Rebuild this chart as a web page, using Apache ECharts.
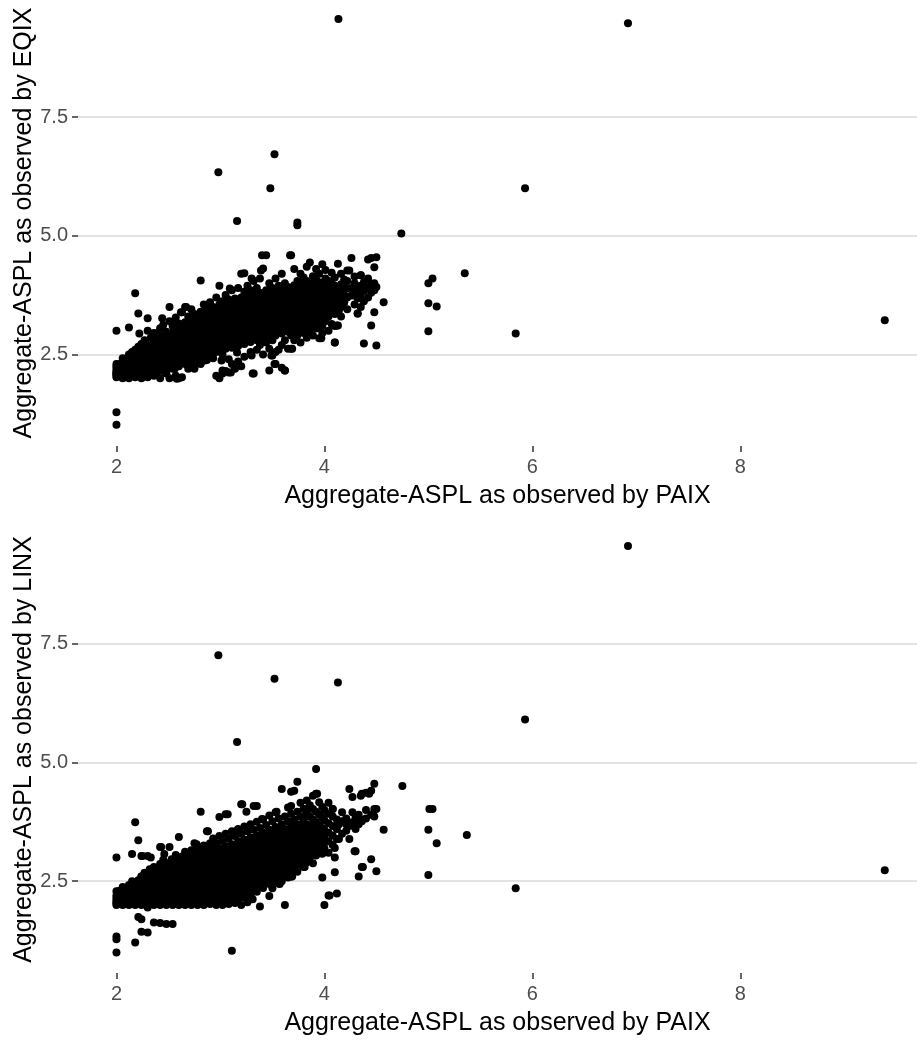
<!DOCTYPE html>
<html>
<head>
<meta charset="utf-8">
<script src="https://cdn.jsdelivr.net/npm/echarts@6/dist/echarts.min.js"></script>
<style>html,body{margin:0;padding:0;background:#fff;}#c{width:917px;height:1041px;}</style>
</head>
<body>
<div id="c"></div>
<script>
const xTicks = [2, 4, 6, 8];
const yTicks = [2.5, 5.0, 7.5];
const xTitle = 'Aggregate-ASPL as observed by PAIX';
const yTitles = ['Aggregate-ASPL as observed by EQIX', 'Aggregate-ASPL as observed by LINX'];

// EQIX vs PAIX : [x, [y values at that x]]
const eqixCols = [
 [2.00,[2.02,2.05,2.08,2.1,2.12,2.15,2.2,2.25,2.3,3.0,1.28,1.02]],
 [2.03,[2.04,2.1,2.18,2.3]],
 [2.06,[2.0,2.08,2.14,2.22,2.35,2.42]],
 [2.09,[2.03,2.12,2.2,2.28,2.4]],
 [2.12,[2.0,2.1,2.16,2.26,2.36,2.5,3.07]],
 [2.15,[2.06,2.14,2.24,2.33,2.45,2.55]],
 [2.18,[2.02,2.12,2.2,2.3,2.4,2.6,3.79]],
 [2.21,[2.1,2.18,2.27,2.38,2.48,2.66,3.36]],
 [2.24,[2.0,2.15,2.25,2.34,2.44,2.56,2.72]],
 [2.27,[2.08,2.2,2.3,2.42,2.52,2.62,2.8]],
 [2.30,[2.02,2.14,2.26,2.36,2.48,2.6,2.7,3.26]],
 [2.33,[2.1,2.22,2.33,2.45,2.55,2.68,2.85]],
 [2.36,[2.05,2.18,2.3,2.42,2.52,2.64,2.76,2.95]],
 [2.39,[2.12,2.25,2.38,2.5,2.6,2.72,2.82]],
 [2.42,[2.0,2.2,2.32,2.44,2.56,2.68,2.8,3.05]],
 [2.45,[2.15,2.28,2.4,2.52,2.64,2.76,2.9,3.12]],
 [2.48,[2.1,2.22,2.36,2.48,2.6,2.72,2.84,2.98]],
 [2.51,[2.0,2.3,2.42,2.55,2.66,2.78,2.9,3.2,3.5]],
 [2.54,[2.2,2.35,2.48,2.6,2.72,2.84,2.96,3.1]],
 [2.57,[2.05,2.28,2.42,2.55,2.68,2.8,2.92,3.05,3.28]],
 [2.60,[2.0,2.25,2.38,2.5,2.62,2.74,2.86,3.0,3.15]],
 [2.63,[2.02,2.32,2.45,2.58,2.7,2.82,2.95,3.1,3.39]],
 [2.66,[2.3,2.42,2.55,2.66,2.78,2.9,3.02,3.18,3.5]],
 [2.69,[2.2,2.38,2.5,2.62,2.74,2.86,2.98,3.12,3.3]],
 [2.72,[2.35,2.48,2.6,2.72,2.84,2.96,3.08,3.22,3.45]],
 [2.75,[2.25,2.42,2.55,2.68,2.8,2.92,3.04,3.18,3.35]],
 [2.78,[2.4,2.52,2.64,2.76,2.88,3.0,3.14,3.28]],
 [2.81,[2.3,2.46,2.6,2.72,2.84,2.96,3.08,3.22,3.4,4.06]],
 [2.84,[2.45,2.58,2.7,2.82,2.94,3.06,3.2,3.34,3.55]],
 [2.87,[2.38,2.52,2.66,2.78,2.9,3.02,3.14,3.28,3.45]],
 [2.90,[2.5,2.62,2.75,2.86,2.98,3.1,3.24,3.38,3.6]],
 [2.93,[2.42,2.58,2.7,2.82,2.94,3.06,3.18,3.32,3.5]],
 [2.96,[2.05,2.55,2.68,2.8,2.92,3.04,3.16,3.3,3.46,3.7]],
 [2.99,[2.0,2.6,2.74,2.86,2.98,3.1,3.22,3.36,3.55,3.95]],
 [3.02,[2.1,2.5,2.66,2.8,2.92,3.04,3.16,3.28,3.42,3.62]],
 [3.05,[2.15,2.62,2.76,2.88,3.0,3.12,3.24,3.38,3.52,3.75]],
 [3.08,[2.12,2.4,2.7,2.84,2.96,3.08,3.2,3.32,3.46,3.66]],
 [3.11,[2.3,2.64,2.78,2.92,3.04,3.16,3.28,3.42,3.58,3.85]],
 [3.14,[2.2,2.72,2.86,2.98,3.1,3.22,3.36,3.5,3.68]],
 [3.17,[2.35,2.68,2.82,2.94,3.06,3.18,3.3,3.44,3.6,3.9]],
 [3.20,[2.25,2.76,2.9,3.02,3.14,3.26,3.38,3.52,3.7,4.2]],
 [3.23,[2.45,2.72,2.86,2.98,3.1,3.22,3.34,3.48,3.64,3.82]],
 [3.26,[2.8,2.94,3.06,3.18,3.3,3.42,3.56,3.72,3.95]],
 [3.29,[2.55,2.76,2.9,3.02,3.14,3.26,3.38,3.5,3.66,3.85]],
 [3.32,[2.1,2.84,2.98,3.1,3.22,3.34,3.46,3.6,3.76,4.05]],
 [3.35,[2.6,2.8,2.94,3.06,3.18,3.3,3.42,3.56,3.7,3.9]],
 [3.38,[2.7,2.88,3.02,3.14,3.26,3.38,3.5,3.64,3.8,4.1]],
 [3.41,[2.5,2.84,2.98,3.1,3.22,3.34,3.46,3.6,3.74,4.31]],
 [3.44,[2.75,2.92,3.06,3.18,3.3,3.42,3.54,3.68,3.85,4.59]],
 [3.47,[2.16,2.62,2.88,3.02,3.14,3.26,3.38,3.5,3.64,3.8,4.0]],
 [3.50,[2.48,2.8,2.96,3.1,3.22,3.34,3.46,3.58,3.72,3.9]],
 [3.53,[2.3,2.55,2.9,3.04,3.16,3.28,3.4,3.52,3.66,3.84,4.1]],
 [3.56,[2.6,2.98,3.12,3.24,3.36,3.48,3.6,3.75,3.95]],
 [3.59,[2.22,2.7,2.94,3.08,3.2,3.32,3.44,3.56,3.7,3.88,4.2]],
 [3.62,[2.16,2.8,3.02,3.16,3.28,3.4,3.52,3.64,3.8,4.0]],
 [3.65,[2.62,2.98,3.12,3.24,3.36,3.48,3.6,3.74,3.92]],
 [3.68,[2.62,2.9,3.06,3.2,3.32,3.44,3.56,3.68,3.84,4.59]],
 [3.71,[2.8,3.0,3.14,3.28,3.4,3.52,3.64,3.78,3.96,4.3]],
 [3.74,[2.9,3.1,3.24,3.36,3.48,3.6,3.72,3.88,4.05]],
 [3.77,[2.75,3.04,3.18,3.32,3.44,3.56,3.68,3.82,4.0,4.2]],
 [3.80,[2.95,3.14,3.28,3.4,3.52,3.64,3.78,3.94,4.12]],
 [3.83,[2.85,3.08,3.22,3.36,3.48,3.6,3.72,3.88,4.05,4.35]],
 [3.86,[3.0,3.18,3.32,3.46,3.58,3.7,3.84,4.0,4.44]],
 [3.89,[2.9,3.12,3.28,3.42,3.54,3.66,3.8,3.95,4.15]],
 [3.92,[3.05,3.22,3.38,3.5,3.62,3.76,3.9,4.08,4.3]],
 [3.95,[2.84,3.16,3.32,3.46,3.58,3.72,3.86,4.02,4.2]],
 [3.98,[2.95,3.1,3.26,3.4,3.54,3.68,3.82,3.98,4.4]],
 [4.01,[3.2,3.36,3.5,3.64,3.78,3.92,4.1,4.28]],
 [4.04,[3.0,3.3,3.46,3.6,3.74,3.9,4.05]],
 [4.07,[3.14,3.4,3.56,3.7,3.84,4.0,4.22]],
 [4.10,[2.75,3.1,3.35,3.52,3.66,3.8,3.95,4.12]],
 [4.13,[3.11,3.43,3.6,3.74,3.88,4.41]],
 [4.16,[3.3,3.5,3.66,3.82,3.98,4.2]],
 [4.19,[3.6,3.76,3.92,4.08]],
 [4.22,[3.45,3.7,3.89,4.05,4.27]],
 [4.26,[3.74,3.9,4.53]],
 [4.29,[3.55,3.8,4.0,4.14]],
 [4.32,[3.36,3.68,3.86]],
 [4.35,[3.5,3.75,3.95,4.17]],
 [4.38,[2.73,3.62,3.84,4.02]],
 [4.42,[3.7,3.9,4.1,4.5]],
 [4.45,[3.11,3.8,3.98,4.53]],
 [4.48,[3.39,3.85,4.0,4.34]],
 [4.50,[2.69,3.92,4.55]]
];
// scattered edge points of the EQIX cloud
const eqixEdge = [[2.22,2.94],[2.3,3.0],[2.39,2.94],[2.67,3.5],[2.62,3.39],[2.44,3.26],[2.56,3.15],[2.75,3.32],[2.88,3.53],[3.09,3.89],[3.23,4.21],[3.3,4.1],[3.39,4.27],[3.4,4.59],[2.75,2.2],[2.56,2.2],[2.58,1.99],[3.02,2.16],[3.1,2.12],[3.31,2.1],[3.3,2.48],[3.16,2.54],[3.01,2.37],[2.85,2.37],[2.7,2.31],[3.67,4.59],[4.24,4.27],[4.35,4.17],[4.29,3.74],[4.19,3.6],[4.14,3.43],[4.32,3.36],[4.12,3.11],[4.1,2.75],[3.93,3.05],[3.97,2.84],[3.84,3.1],[3.69,2.62],[3.52,2.3],[3.49,2.48],[3.62,2.16]];
const eqixOutliers = [[4.135,9.57],[6.92,9.48],[2.98,6.34],[3.52,6.72],[3.48,6.0],[5.93,6.0],[3.16,5.31],[3.74,5.28],[3.74,5.22],[4.74,5.05],[9.39,3.22],[5.84,2.94],[5.35,4.21],[5.04,4.1],[5.0,4.0],[5.0,3.58],[5.08,3.51],[5.0,2.99],[4.57,3.6]];

// LINX vs PAIX : [x, [y values at that x]]
const linxCols = [
 [2.00,[2.0,2.03,2.06,2.1,2.15,2.2,2.29,3.0,1.34,1.28,1.0]],
 [2.03,[2.02,2.08,2.14,2.22,2.3]],
 [2.06,[2.0,2.05,2.12,2.2,2.28,2.38]],
 [2.09,[2.02,2.1,2.18,2.26,2.34]],
 [2.12,[2.0,2.06,2.14,2.22,2.3,2.42]],
 [2.15,[2.04,2.1,2.18,2.26,2.36,2.5,3.07]],
 [2.18,[2.0,2.08,2.16,2.24,2.32,2.44,3.74,1.21]],
 [2.21,[2.04,2.12,2.2,2.3,2.4,2.52,3.36,1.75]],
 [2.24,[2.0,2.08,2.16,2.26,2.36,2.46,2.6,1.7,1.44,3.03]],
 [2.27,[2.04,2.12,2.22,2.32,2.42,2.54,2.68]],
 [2.30,[2.0,1.95,2.08,2.18,2.28,2.38,2.5,2.62,1.42,3.03]],
 [2.33,[2.04,2.14,2.24,2.34,2.46,2.58,2.72]],
 [2.36,[2.0,2.1,2.2,2.3,2.42,2.54,2.66,2.8,1.63]],
 [2.39,[2.06,2.16,2.26,2.38,2.5,2.62,2.76]],
 [2.42,[2.0,2.12,2.22,2.34,2.46,2.58,2.7,2.86,3.22,1.62]],
 [2.45,[2.04,2.18,2.3,2.42,2.54,2.66,2.8,2.95]],
 [2.48,[2.0,2.1,2.24,2.36,2.48,2.6,2.74,2.88,1.6]],
 [2.51,[2.06,2.18,2.3,2.44,2.56,2.7,2.84,3.22]],
 [2.54,[2.0,2.12,2.24,2.38,2.5,2.64,2.78,2.92,1.6]],
 [2.57,[2.04,2.18,2.32,2.46,2.6,2.74,2.9,3.05]],
 [2.60,[2.0,2.1,2.26,2.4,2.54,2.68,2.82,2.98,3.43]],
 [2.63,[2.04,2.16,2.3,2.44,2.58,2.72,2.86,3.02]],
 [2.66,[2.0,2.1,2.22,2.36,2.5,2.64,2.78,2.94,3.12]],
 [2.69,[2.04,2.16,2.3,2.44,2.58,2.72,2.88,3.05]],
 [2.72,[2.0,2.1,2.24,2.38,2.52,2.66,2.8,2.96,3.15]],
 [2.75,[2.04,2.18,2.32,2.46,2.6,2.74,2.9,3.08,3.3]],
 [2.78,[2.0,2.12,2.26,2.4,2.54,2.68,2.84,3.0,3.2]],
 [2.81,[2.06,2.2,2.34,2.48,2.62,2.78,2.94,3.12,3.96]],
 [2.84,[2.0,2.14,2.28,2.42,2.56,2.7,2.86,3.02,3.25]],
 [2.87,[2.08,2.22,2.36,2.5,2.64,2.8,2.96,3.15,3.55]],
 [2.90,[2.02,2.16,2.3,2.44,2.58,2.72,2.88,3.06,3.3]],
 [2.93,[2.1,2.24,2.38,2.52,2.66,2.82,2.98,3.18,3.4]],
 [2.96,[2.0,2.18,2.32,2.46,2.6,2.76,2.92,3.1,3.3]],
 [2.99,[2.06,2.26,2.4,2.54,2.68,2.84,3.0,3.2,3.45,3.85]],
 [3.02,[2.0,2.14,2.34,2.48,2.62,2.78,2.94,3.12,3.35]],
 [3.05,[2.08,2.22,2.42,2.56,2.7,2.86,3.04,3.24,3.5,3.91]],
 [3.08,[2.02,2.16,2.36,2.5,2.64,2.8,2.98,3.16,3.4]],
 [3.11,[2.1,2.28,2.46,2.6,2.74,2.9,3.08,3.28,3.55,1.04]],
 [3.14,[2.04,2.2,2.4,2.54,2.68,2.84,3.02,3.22,3.45]],
 [3.17,[2.12,2.32,2.5,2.64,2.78,2.94,3.12,3.34,3.6]],
 [3.20,[2.0,2.24,2.44,2.58,2.72,2.88,3.06,3.26,3.5,4.12]],
 [3.23,[2.16,2.36,2.54,2.68,2.82,2.98,3.16,3.38,3.65]],
 [3.26,[2.06,2.3,2.48,2.62,2.76,2.92,3.1,3.3,3.55]],
 [3.29,[2.2,2.42,2.58,2.72,2.86,3.02,3.2,3.42,3.7]],
 [3.32,[2.34,2.52,2.66,2.8,2.96,3.14,3.34,3.58,4.08]],
 [3.35,[2.28,2.46,2.62,2.76,2.9,3.06,3.24,3.46,3.75]],
 [3.38,[1.97,2.4,2.58,2.72,2.86,3.0,3.18,3.38,3.62]],
 [3.41,[2.36,2.54,2.68,2.82,2.96,3.12,3.3,3.52,3.8]],
 [3.44,[2.48,2.64,2.78,2.92,3.06,3.24,3.44,3.68]],
 [3.47,[2.19,2.44,2.6,2.74,2.88,3.02,3.18,3.36,3.58,3.88]],
 [3.50,[2.35,2.56,2.7,2.84,2.98,3.14,3.3,3.5,3.76]],
 [3.53,[2.5,2.66,2.8,2.94,3.08,3.24,3.42,3.64,3.95]],
 [3.56,[2.45,2.62,2.76,2.9,3.04,3.2,3.36,3.56,3.82]],
 [3.59,[2.5,2.7,2.84,2.98,3.12,3.28,3.46,3.7,4.44]],
 [3.62,[2.0,2.64,2.8,2.94,3.08,3.24,3.4,3.6,3.86]],
 [3.65,[2.58,2.76,2.9,3.04,3.18,3.34,3.52,3.76,4.05]],
 [3.68,[2.6,2.72,2.86,3.0,3.14,3.3,3.46,3.66,3.92]],
 [3.71,[2.8,2.96,3.1,3.24,3.4,3.58,3.8,4.4]],
 [3.74,[2.7,2.9,3.04,3.18,3.34,3.5,3.7,3.96,4.59]],
 [3.77,[2.85,3.0,3.14,3.3,3.46,3.64,3.86,4.15]],
 [3.80,[2.8,2.94,3.1,3.26,3.42,3.58,3.78,4.02]],
 [3.83,[2.9,3.06,3.2,3.36,3.52,3.7,3.92,4.2]],
 [3.86,[3.0,3.16,3.32,3.48,3.66,3.86,4.1]],
 [3.89,[2.88,3.1,3.26,3.42,3.6,3.8,4.02,4.3]],
 [3.92,[3.04,3.2,3.38,3.56,3.74,3.96,4.86,4.34]],
 [3.95,[3.14,3.32,3.5,3.68,3.9,4.16]],
 [3.98,[2.58,3.08,3.26,3.44,3.62,3.84,4.06]],
 [4.00,[2.0,3.2,3.4,3.58,3.78,4.0]],
 [4.04,[2.2,3.1,3.34,3.52,3.72,3.92,4.15]],
 [4.08,[3.26,3.46,3.66,3.86,4.02]],
 [4.10,[2.69,3.0,3.2]],
 [4.12,[2.24,3.39,3.6,3.8]],
 [4.14,[3.39,3.7]],
 [4.17,[3.5,3.76,3.95]],
 [4.21,[3.56,3.82]],
 [4.24,[3.39,3.66,4.44]],
 [4.27,[3.74,3.95,4.27]],
 [4.30,[3.13,3.6,3.84]],
 [4.33,[2.6,3.7,3.9]],
 [4.36,[2.8,3.76,4.34]],
 [4.40,[3.82,4.0,4.36]],
 [4.45,[2.96,3.9,4.4]],
 [4.48,[3.86,4.02,4.55]],
 [4.50,[2.71]]
];
// scattered edge points of the LINX cloud
const linxEdge = [[2.25,3.03],[2.33,3.0],[2.43,3.22],[2.46,3.07],[2.53,2.96],[2.32,2.75],[2.24,2.6],[2.7,3.03],[2.88,3.55],[2.77,3.28],[3.07,3.91],[3.15,3.55],[3.21,4.12],[3.35,4.08],[3.25,3.96],[3.4,3.81],[3.68,4.38],[3.54,3.96],[3.68,4.08],[3.93,4.34],[3.83,4.02],[4.08,4.02],[4.35,4.3],[4.43,4.34],[4.5,4.02],[4.34,3.81],[4.21,3.7],[3.21,2.19],[3.31,2.12],[3.57,2.44],[3.69,2.6],[3.81,2.8],[4.05,2.2],[4.37,2.8],[4.29,3.13]];
const linxOutliers = [[6.92,9.55],[2.98,7.25],[3.52,6.76],[4.13,6.68],[5.93,5.9],[3.16,5.43],[9.39,2.73],[5.84,2.35],[4.75,4.5],[5.01,4.02],[5.04,4.02],[5.0,3.58],[5.08,3.3],[5.37,3.47],[5.0,2.63],[4.57,3.58]];

function buildPoints(cols, edge, extra) {
  const pts = [];
  cols.forEach(c => c[1].forEach(y => pts.push([c[0], y])));
  edge.forEach(p => pts.push(p));
  extra.forEach(p => pts.push(p));
  return pts;
}
const panels = [
  buildPoints(eqixCols, eqixEdge, eqixOutliers),
  buildPoints(linxCols, linxEdge, linxOutliers)
];

const FONT = '"Liberation Sans", Arial, sans-serif';
const grids = [
  {left: 78, top: 0, width: 839, height: 446, containLabel: false, outerBoundsMode: 'none'},
  {left: 78, top: 526, width: 839, height: 447, containLabel: false, outerBoundsMode: 'none'}
];
const chart = echarts.init(document.getElementById('c'), null, {renderer: 'canvas'});
chart.setOption({
  animation: false,
  backgroundColor: '#ffffff',
  grid: grids,
  xAxis: [0, 1].map(i => ({
    type: 'value', gridIndex: i, min: 1.63, max: 9.70,
    axisLine: {show: false},
    axisTick: {show: true, customValues: xTicks, length: 6, lineStyle: {color: '#333333', width: 1.5}},
    axisLabel: {customValues: xTicks, fontSize: 20, color: '#4d4d4d', margin: 11, fontFamily: FONT},
    splitLine: {show: false},
    name: xTitle, nameLocation: 'middle', nameGap: 38,
    nameTextStyle: {fontSize: 25, color: '#000000', fontFamily: FONT}
  })),
  yAxis: [0, 1].map(i => ({
    type: 'value', gridIndex: i, min: 0.57, max: 9.97,
    axisLine: {show: false},
    axisTick: {show: true, customValues: yTicks, length: 6, lineStyle: {color: '#333333', width: 1.5}},
    axisLabel: {customValues: yTicks, fontSize: 20, color: '#4d4d4d', margin: 10, fontFamily: FONT,
      formatter: v => Number(v).toFixed(1)},
    splitLine: {show: true, lineStyle: {color: '#d9d9d9', width: 1.5}},
    name: yTitles[i], nameLocation: 'middle', nameGap: 41, nameMoveOverlap: false,
    nameTextStyle: {fontSize: 25, color: '#000000', fontFamily: FONT}
  })),
  series: panels.map((pts, i) => ({
    type: 'scatter', xAxisIndex: i, yAxisIndex: i,
    data: pts, symbol: 'circle', symbolSize: 8,
    itemStyle: {color: '#000000', opacity: 1},
    large: false, silent: true
  }))
});
</script>
</body>
</html>
